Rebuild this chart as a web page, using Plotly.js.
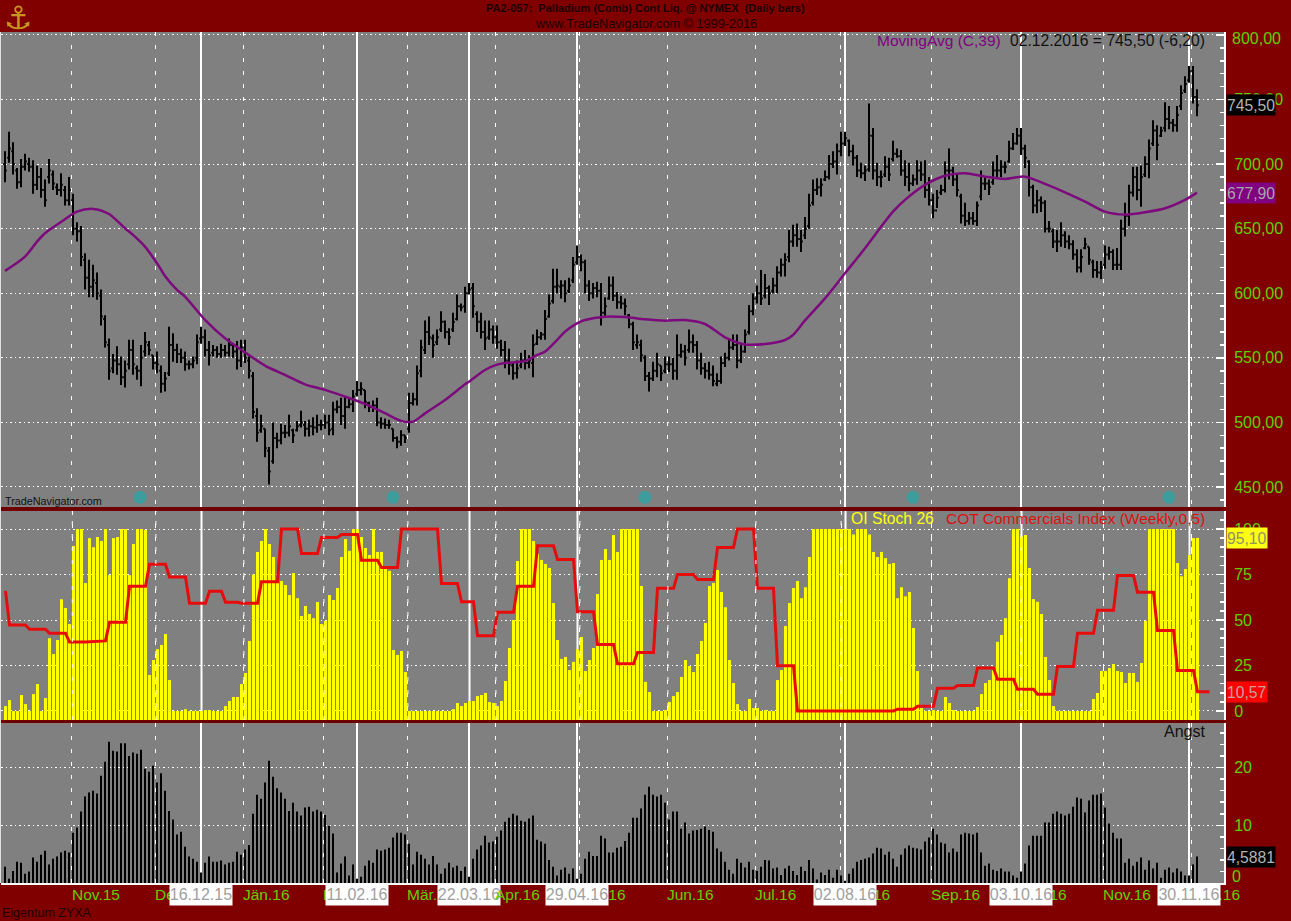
<!DOCTYPE html>
<html><head><meta charset="utf-8">
<script src="https://cdn.plot.ly/plotly-3.0.1.min.js"></script>
<style>html,body{margin:0;padding:0;background:#800000;overflow:hidden}#c{width:1291px;height:921px}</style>
</head><body><div id="c"></div>
<script>
const priceHigh=[710,725,717,697,704,708,705,703,699,697,
688,704,695,685,693,683,690,677,655,652,
631,626,622,616,603,583,565,553,559,551,
548,564,564,544,560,570,563,552,555,544,
539,574,569,561,557,555,548,551,568,574,
572,563,560,559,561,560,565,561,563,564,
564,551,539,511,506,495,481,500,492,499,
498,506,495,501,509,501,502,504,506,502,
506,506,516,517,519,520,519,525,532,531,
525,516,517,519,504,503,502,495,489,494,
490,523,523,544,564,579,582,568,572,586,
579,573,585,599,592,605,608,608,586,585,
579,579,575,575,564,563,557,546,548,554,
556,552,568,572,570,587,599,619,619,610,
610,612,628,637,630,626,610,608,609,608,
597,613,613,601,598,596,584,578,568,564,
552,539,547,554,544,551,551,550,568,561,
560,572,568,563,554,546,547,544,538,551,
554,565,568,568,560,572,591,600,606,618,
615,606,612,621,627,631,649,653,654,649,
659,677,688,689,689,695,707,710,716,725,
725,719,715,707,701,699,747,728,701,695,
706,705,718,712,711,703,701,692,703,702,
703,690,677,680,684,702,712,698,693,677,
670,663,663,671,695,690,688,702,707,703,
702,718,724,728,728,715,703,684,680,675,
672,656,650,649,655,648,645,641,634,634,
643,636,626,625,625,637,636,634,635,657,
670,684,698,698,699,706,719,734,730,729,
748,745,735,745,761,768,776,776,758];
const priceLow=[686,701,692,681,682,695,694,677,680,674,
667,685,680,676,675,668,668,645,640,621,
603,597,597,595,575,558,533,538,537,529,
527,541,537,533,528,551,552,541,538,523,
524,536,547,546,546,540,541,542,545,561,
551,544,551,550,550,551,551,550,541,543,
546,534,503,485,492,473,452,468,480,483,
488,489,484,493,496,489,489,490,492,494,
495,490,490,507,498,495,511,508,520,521,
511,508,508,497,495,495,495,485,480,482,
484,492,513,513,535,553,560,550,560,570,
565,560,570,579,586,585,599,581,570,565,
556,564,561,557,551,542,537,533,534,542,
541,542,535,560,564,564,581,592,600,596,
593,600,608,622,617,600,594,596,597,575,
582,595,594,588,588,583,573,556,557,547,
532,524,532,535,532,538,539,533,533,550,
544,554,554,541,537,534,533,528,528,530,
543,548,556,542,546,554,568,583,592,591,
596,591,600,600,613,613,624,636,636,632,
642,650,668,676,675,687,688,697,692,706,
714,706,699,690,689,687,694,688,683,682,
690,687,702,705,691,683,679,683,684,687,
674,668,658,666,676,678,688,683,675,654,
652,653,653,652,672,680,676,684,690,690,
693,701,711,715,707,697,675,662,662,663,
647,647,635,632,636,635,634,626,616,616,
634,622,612,612,611,619,626,618,618,618,
644,652,675,672,667,690,689,714,703,721,
725,727,725,725,742,755,763,747,737];
const priceClose=[695,712,700,686,698,702,698,684,690,680,
672,695,685,680,684,672,680,650,648,628,
612,605,610,600,582,562,540,548,545,535,
540,556,545,540,550,562,556,546,545,530,
534,560,556,553,550,545,545,548,562,566,
556,552,556,553,556,554,560,555,548,558,
550,540,508,492,497,480,462,488,486,492,
492,497,490,497,500,495,497,496,498,498,
500,494,510,512,505,512,514,520,525,526,
516,512,513,500,499,498,498,488,485,490,
488,515,518,538,558,570,566,560,566,578,
570,566,578,590,589,600,603,590,578,570,
565,572,566,562,556,548,545,538,542,548,
546,548,560,566,568,580,592,605,606,606,
600,606,622,628,624,606,600,604,602,585,
590,606,598,593,592,590,576,562,562,552,
536,534,540,545,538,545,545,540,552,555,
550,562,560,548,542,540,537,532,532,546,
550,558,560,548,555,568,586,596,600,596,
604,600,606,616,622,626,640,645,642,640,
650,668,680,682,684,690,700,702,710,716,
720,710,705,695,693,695,722,695,690,690,
698,692,708,706,695,690,685,688,695,692,
680,672,664,674,680,695,695,688,680,660,
656,658,656,668,685,685,682,695,695,698,
698,712,716,722,712,705,682,668,672,670,
650,650,640,640,645,640,638,630,620,628,
638,626,618,616,620,630,632,622,622,650,
660,678,690,680,690,700,712,726,715,726,
735,732,730,738,755,762,772,752,745.5];
const priceOpen=[700,705,710,695,686,698,700,698,684,690,
680,690,692,682,680,680,672,672,650,648,
626,612,605,608,598,580,560,542,548,545,
535,545,556,542,540,555,560,552,546,540,
530,538,560,556,553,550,545,545,550,565,
566,556,554,556,553,556,554,560,555,548,
558,548,536,505,494,495,478,470,488,486,
492,492,494,494,498,498,495,497,496,498,
498,500,495,510,512,505,512,514,522,525,
525,515,512,513,500,499,498,495,488,485,
490,495,515,518,540,556,570,565,562,572,
578,570,572,580,590,590,600,604,584,578,
570,566,572,566,562,556,548,544,538,544,
548,546,546,561,566,568,582,594,605,605,
606,602,610,624,628,624,606,600,604,602,
585,596,606,598,593,592,583,576,560,560,
550,536,534,540,544,540,545,545,540,552,
555,556,562,560,548,542,540,537,530,532,
546,550,558,560,548,555,570,586,596,600,
598,604,602,606,616,622,628,640,645,642,
645,652,670,680,682,688,690,700,702,710,
716,718,710,705,695,693,696,722,695,690,
692,698,704,708,706,695,690,685,688,695,
692,680,672,664,678,680,695,695,688,675,
660,656,658,656,675,685,685,686,695,695,
698,702,712,716,722,712,702,682,668,672,
670,650,648,640,640,645,640,638,630,620,
635,636,624,618,616,622,630,632,622,622,
650,660,678,690,680,692,700,716,726,722,
728,735,732,730,745,757,765,772,752];
const maIndex=[0,5,8,10,15,18,22,26,30,32,35,38,40,43,45,50,55,60,65,70,75,80,85,90,95,99,102,105,110,115,116,120,123,125,130,133,135,138,140,143,145,150,155,160,165,170,175,180,185,190,195,197,200,205,210,215,220,222,225,230,235,240,245,250,255,260,265,270,275,280,285,290,295,298];
const maValue=[617.3,628.4,640,646.5,657.3,663.2,665.3,661.4,650.3,645.2,636.1,623.2,613.4,602.6,597.4,579.4,565.2,554.3,544,536.8,529.5,525.2,520,514.3,507.1,501.2,500.6,507,517.3,529.5,531.5,540.6,544.7,546,547.5,552.2,554.8,563.8,570.3,576.7,579.3,581.9,581.6,579.8,578.8,579.3,576.2,565.9,560.4,560.7,563.8,567.7,579,596,615.5,634.8,655.5,663.2,672.3,683.9,691,692.9,690.3,688.5,690.3,684.7,678.2,671,663.2,660.9,662.7,665.8,672.3,677.9];
const oiStoch=[2.7,6,0,0,8.8,3.8,0,9.3,14.8,0,
7.1,40,31.3,39,61.4,56.6,47.8,90.7,100,100,
70.3,95,90,95.6,93.4,100,74.7,95,95.6,100,
100,74.7,91.8,100,100,99.5,19.8,28,34,36.3,
42.3,17,0,0,0,1,0,0,0,0,
0.5,0.5,0,0,0,2.7,5.5,7.7,7.7,14.8,
20.9,38.5,75,87.4,93.4,100,91.8,84.6,71.4,71.4,
69.2,63.7,75.8,62,52.2,57.7,53.3,51,59.9,47.8,
49.5,63.7,61,67.6,84.6,94.5,88,100,100,95.6,
89.6,85.7,100,87.4,87.4,78.4,77,33.5,30.8,33,
21.4,0,0,0,0,0,0,0,0,0,
0,0,1,4.4,2.7,4.4,5.5,5.5,8.2,8.8,
9.9,4.9,4.4,2.7,5.5,16.5,34.6,50,82.4,100,
100,100,93.4,86.3,83,80.8,78.6,59.3,39,28.6,
29.7,22.5,27,34,40.7,22,28,34.6,64.3,83,
89,83,96.7,87.4,100,100,100,100,100,68.7,
16,10.4,0,0,0,0.5,5,8.2,10.4,18.7,
28,24.7,21.4,31.3,38.5,48.4,68.7,70.3,77.5,65.4,
57,28,15.4,3.8,0,0,6.6,1.6,1.6,0,
0.5,0,0,17,22.5,46.7,59.3,67.6,71.4,62,
68,84.6,100,100,100,100,100,100,100,100,
100,100,97,100,100,100,97,87.4,84.6,87.4,
84,80.8,81.3,62,68,63,65.4,45.6,22,1.6,
0,0,0.5,0,0,7.7,4.4,0.5,0,0,
0,0,0,2.2,9.3,15.4,17,22.5,38,41.8,
51,73,100,100,96,96.7,78.6,61.5,60,53.3,
29.7,17,2.7,0,0,0,0,0,0,0,
0,0,6.6,9.9,22,22,23.6,25.8,22,21.4,
15.4,20.9,20.9,16,26.4,49.5,100,100,100,100,
100,100,100,81.3,74,78,85.7,95,95.1];
const cotIndex=[0,1,5,6,10,11,15,16,20,25,26,30,31,35,36,40,41,45,46,50,51,54,55,58,59,63,64,68,69,73,74,78,79,83,84,88,89,93,94,98,99,108,109,113,114,117,118,122,123,127,128,132,133,137,138,142,143,147,148,152,153,157,158,162,163,167,168,172,173,177,178,182,183,187,188,192,193,197,198,222,223,227,228,232,233,237,238,242,243,247,248,252,253,257,258,262,263,267,268,272,273,277,278,282,283,287,288,292,293,297,298,301];
const cotValue=[66,47.3,47.3,44.9,44.9,42.7,42.7,37.9,37.9,38.5,48.7,48.7,68.5,68.5,80.6,80.6,73.6,73.6,59.2,59.2,65.8,65.8,59.7,59.7,59.2,59.2,71,71,100,100,86.6,86.6,95.4,95.4,97,97,82.8,82.8,78.9,78.9,100,100,70,70,60,60,41.4,41.4,54.2,54.2,68.5,68.5,90.8,90.8,83.3,83.3,54.6,54.6,36.6,36.6,26,26,32.2,32.2,67.4,67.4,75,75,72.3,72.3,89.9,89.9,100,100,67.4,67.4,24.9,24.9,0,0,1,1,2.6,2.6,12.5,12.5,14,14,23.6,23.6,17.4,17.4,11.9,11.9,9.2,9.2,24.5,24.5,42.7,42.7,55.3,55.3,74.5,74.5,65.2,65.2,44.3,44.3,22.3,22.3,10.57,10.57];
const angst=[2.8,0.75,2.1,3.7,3.5,1.6,2,4.4,3.7,4.9,
5.6,3.2,4.2,4.6,5.3,5.6,5.3,8.7,9.6,12.4,
15,15.7,16,15.5,18.6,21,24.5,22.9,22.8,24.2,
24.2,22,22.6,22.4,23.1,19.8,19.3,20.3,17.4,19,
16,12.5,11,8.4,8.9,6.3,4.6,4.2,3.7,1.8,
3.5,4.6,3.7,3.7,3.9,3.2,3.5,3.7,5.4,4.9,
5.8,6.6,12,15.3,14.6,17.4,21.2,18.4,16.4,15.7,
14.6,12.5,13.9,12.4,11.7,13.1,13.2,12.4,12.7,12.4,
11.8,9.9,8.6,1.8,3.4,4.6,1.3,3.2,0.75,1.1,
3,3.9,3.5,5.8,5.6,5.8,6.1,7.9,8.7,8.7,
8.4,6.8,3.2,5.4,4.9,4.2,3.2,4.7,3.2,1.6,
2.5,3.5,2.7,3,2.1,2.8,1.1,4.2,5.8,6.5,
8.2,7,7.2,8,9.1,10.6,11.3,12,11.7,10.8,
10.6,11.2,11.7,7.5,7.2,6.8,4,2.8,1.3,2.3,
2.7,1.6,2.5,0.75,1.6,4.2,5.4,4.7,4.7,8.2,
7.7,5.3,5.3,6.1,6.3,7.3,8.7,11.3,11.3,12.9,
15.3,16.7,15.3,15,15.3,13.9,11,12.4,12.4,9.4,
10.5,8.6,9.1,9.2,9.4,9.8,9.2,8.9,6,5.4,
3.7,2.3,1.6,4.2,3.5,2.7,3.7,2.3,2.1,2.8,
4,3.9,2.5,2.7,1.4,2.5,3,2.1,1.4,2.8,
2.1,4,2.5,0.6,1.8,1.4,2.3,0.9,2.3,1.3,
0.4,1.6,2.5,3.7,4,4.2,4.4,5.1,6.1,6,
4.9,5.4,4.2,2.8,4.9,6,6.5,6.1,6,5.8,
7.2,7.9,9.4,8.4,7,6.8,5.3,6,5.4,8.4,
8.7,8.6,8.4,8.7,5.3,3,3.4,2.3,2.1,2.5,
2,2,1.3,0.9,2,3.4,6.5,8.2,8.2,8.2,
10.5,10.5,12,12.4,12,11.7,12,13.2,14.8,14.6,
12.2,14.3,15.3,15.3,15.5,13.1,10.3,8.7,7.7,7.7,
3.5,4.2,3,3.7,4.4,2.3,3.9,2.5,3.5,0.9,
2.3,2.7,1.8,2.5,2,1.3,1.3,3.2,4.5881];
const barIndex=priceHigh.map((_,i)=>i);
const monthIndex=[16.7,37.6,59.6,79.6,100.6,122.6,143.6,165.6,187.6,208.9,231.5,253.9,274.5,296.5];
const monthLabels=['Nov.15','Dez.15','Jän.16','Feb.16','Mär.16','Apr.16','Mai.16','Jun.16','Jul.16','Aug.16','Sep.16','Okt.16','Nov.16','Dez.16'];
const cycleIndex=[49,88,116,143,210,254,296];
const cycleLabels=['16.12.15','11.02.16','22.03.16','29.04.16','02.08.16','03.10.16','30.11.16'];
const eyeIndex=[33.75,97,160,227,291];
const eyeValue=[442,442,442,442,442];
const priceTicks=[450,500,550,600,650,700,750,800];
const priceTickText=['450,00','500,00','550,00','600,00','650,00','700,00','750,00',''];
const oiTicks=[0,25,50,75,100];
const angstTicks=[0,10,20];
const angstTickText=['','10','20'];

const W=1291,H=921;
const px=v=>v/W, py=v=>1-v/H;
const FONT='"Liberation Sans",Arial,sans-serif';
const GREEN='#5fd000';
const xRange=[-1,304.75];
const xRangeOi=[-1.125,304.625];
function xa(anchor,extra){return Object.assign({domain:[px(1),px(1224)],range:xRange,anchor:anchor,type:'linear',showticklabels:false,
  tickmode:'array',tickvals:monthIndex,ticks:'',showgrid:true,gridcolor:'#ffffff',gridwidth:1,griddash:'4px,9px',zeroline:false,showline:false,rangeslider:{visible:false},fixedrange:true},extra||{});}
function ya(anchor,dom,range,tv,tt,minor){return {domain:[py(dom[1]),py(dom[0])],range:range,anchor:anchor,side:'right',tickmode:'array',tickvals:tv,ticktext:tt,
  ticks:'inside',ticklen:8,tickwidth:1.5,tickcolor:'#ffffff',ticklabelstandoff:5,showline:true,linecolor:'#ffffff',linewidth:2,
  tickfont:{family:FONT,size:16,color:GREEN},showgrid:true,gridcolor:'#ffffff',gridwidth:1,griddash:'1.5px,3px',zeroline:false,fixedrange:true,
  minor:{tickmode:'linear',tick0:0,dtick:minor,ticks:'inside',ticklen:4,tickwidth:1.5,tickcolor:'#ffffff',showgrid:false}};}

const traces=[
 {type:'scatter',mode:'markers',x:eyeIndex,y:eyeValue,xaxis:'x',yaxis:'y',marker:{color:'#3f9c9c',size:13,symbol:'circle'},hoverinfo:'skip'},
 {type:'ohlc',x:barIndex,open:priceOpen,high:priceHigh,low:priceLow,close:priceClose,xaxis:'x',yaxis:'y',tickwidth:0.45,
  increasing:{line:{color:'#000000',width:2}},decreasing:{line:{color:'#000000',width:2}},hoverinfo:'skip'},
 {type:'scatter',mode:'lines',x:maIndex,y:maValue,xaxis:'x',yaxis:'y',line:{color:'#7c0a7c',width:2.5,shape:'spline',smoothing:0.8},hoverinfo:'skip'},
 {type:'bar',x:barIndex,y:oiStoch.map(v=>v+5),base:-5,width:0.75,xaxis:'x2',yaxis:'y2',marker:{color:'#ffff00',line:{width:0}},hoverinfo:'skip'},
 {type:'scatter',mode:'lines',x:cotIndex,y:cotValue,xaxis:'x2',yaxis:'y2',line:{color:'#e60c0c',width:3},hoverinfo:'skip'},
 {type:'bar',x:barIndex,y:angst,width:0.5,xaxis:'x3',yaxis:'y3',marker:{color:'#000000',line:{width:0}},hoverinfo:'skip'}
];

const shapes=[];
cycleIndex.forEach(c=>{['',2,3].forEach(n=>{
  shapes.push({type:'line',layer:'below',xref:'x'+n,yref:'y'+n+' domain',x0:c,x1:c,y0:0,y1:1,line:{color:'#ffffff',width:2}});
});});
monthIndex.forEach(m=>{shapes.push({type:'line',layer:'above',xref:'x2',yref:'y2 domain',x0:m,x1:m,y0:0,y1:1,line:{color:'#ffffff',width:1,dash:'4px,9px'}});});
[[507,510.5],[720,723]].forEach(b=>{shapes.push({type:'rect',layer:'above',xref:'paper',yref:'paper',x0:0,x1:px(1225),y0:py(b[1]),y1:py(b[0]),fillcolor:'#6e0000',line:{width:0}});});
shapes.push({type:'line',layer:'above',xref:'paper',yref:'paper',x0:px(0.5),x1:px(0.5),y0:py(883),y1:py(32),line:{color:'#e0e0e0',width:1}});

function note(text,x,y,size,color,anchor,extra){return Object.assign({text:text,xref:'paper',yref:'paper',x:px(x),y:py(y),xanchor:anchor||'left',yanchor:'middle',showarrow:false,font:{family:FONT,size:size,color:color},borderpad:0},extra||{});}
const annotations=[
 note('⚓',18,18,32,'#c8961e','center',{font:{family:'"DejaVu Sans"',size:32,color:'#c8961e'}}),
 note('<b>PA2-057:  Palladium (Comb) Cont Liq. @ NYMEX  (Daily bars)</b>',645.5,8,11,'#1c0000','center'),
 note('www.TradeNavigator.com © 1999-2016',646,24,12.7,'#1c0000','center'),
 note('MovingAvg (C,39)',876,40,15.5,'#800080'),
 note('02.12.2016 = 745,50 (-6,20)',1206,40,15.7,'#111111','right'),
 note('OI Stoch 26',850,518,15.7,'#ffff14'),
 note('COT Commercials Index (Weekly,0,5)',1206,518,15.5,'#dd1010','right'),
 note('Angst',1206,731,16,'#111111','right'),
 note('TradeNavigator.com',4,501,10.8,'#111111'),
 note('Eigentum ZYXA',1,913,12.5,'#200000'),
 note('800,00',1231,38,16,GREEN),
 note('0',1231,876,16,GREEN)
];
const monthNote=i=>({text:monthLabels[i],xref:'x3',yref:'paper',x:monthIndex[i],y:py(894),xanchor:'left',yanchor:'middle',showarrow:false,borderpad:0,xshift:-1,font:{family:FONT,size:15.5,color:GREEN}});
monthIndex.forEach((m,i)=>{if(monthLabels[i]!=='Apr.16')annotations.push(monthNote(i));});
cycleIndex.forEach((c,i)=>{annotations.push({text:cycleLabels[i],xref:'x3',yref:'paper',x:c,y:py(894),xanchor:'center',yanchor:'middle',showarrow:false,width:62,height:21,bgcolor:'#ffffff',borderpad:0,font:{family:FONT,size:16,color:'#a0a0a0'}});});
annotations.push(monthNote(monthLabels.indexOf('Apr.16')));
function box(text,yref,val,bg,color,w){return {text:text,xref:'paper',yref:yref,x:px(1226),y:val,xanchor:'left',yanchor:'middle',showarrow:false,width:w,height:20,bgcolor:bg,borderpad:0,align:'left',font:{family:FONT,size:15.7,color:color}};}
annotations.push(box('745,50','y',745.5,'#000000','#b4b4b4',48));
annotations.push(box('677,90','y',677.9,'#800080','#a8a8a8',48));
annotations.push(box('95,10','y2',95.1,'#ffff14','#909060',40));
annotations.push(box('10,57','y2',10.57,'#ff0000','#c8a0a0',40));
annotations.push(box('4,5881','y3',4.5881,'#000000','#b4b4b4',48));

const layout={width:W,height:H,margin:{l:0,r:0,t:0,b:0,pad:0},paper_bgcolor:'#800000',plot_bgcolor:'#808080',separators:',.',showlegend:false,barmode:'overlay',
 font:{family:FONT},
 xaxis:xa('y'),xaxis2:xa('y2',{range:xRangeOi}),
 xaxis3:xa('y3',{showline:true,linecolor:'#ffffff',linewidth:2}),
 yaxis:ya('x',[32,507],[434.5,802.3],priceTicks,priceTickText,10),
 yaxis2:ya('x2',[511,720],[-4.95,109.9],oiTicks,oiTicks.map(String),5),
 yaxis3:ya('x3',[723,883],[0,27.73],angstTicks,angstTickText,2),
 shapes:shapes,annotations:annotations};
Plotly.newPlot('c',traces,layout,{displayModeBar:false,staticPlot:true});
</script></body></html>
